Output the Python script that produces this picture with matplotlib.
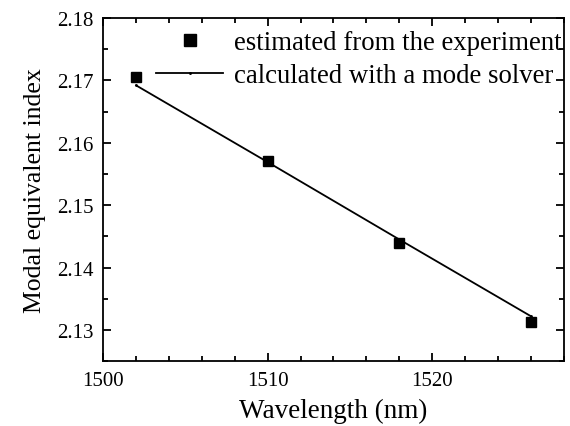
import matplotlib.pyplot as plt
from matplotlib.ticker import MultipleLocator

# experiment points
wl_exp = [1502, 1510, 1518, 1526]
n_exp = [2.1705, 2.1571, 2.1440, 2.1313]

# mode solver
wl_sim = [1502, 1510, 1518, 1526]
n_sim = [2.1692, 2.1569, 2.1445, 2.1322]

plt.rcParams['font.family'] = ['Liberation Serif', 'DejaVu Serif']

fig, ax = plt.subplots(figsize=(5.7, 4.27), dpi=100)
ax.plot(wl_exp, n_exp, 's', color='black', markersize=7.8, linestyle='none',
        label='estimated from the experiment')
ax.plot(wl_sim, n_sim, '-', color='black', linewidth=1.3, marker='.', markersize=2,
        label='calculated with a mode solver')

ax.set_xlim(1500, 1528)
ax.set_ylim(2.125, 2.18)
ax.xaxis.set_major_locator(MultipleLocator(10))
ax.xaxis.set_minor_locator(MultipleLocator(2))
ax.yaxis.set_major_locator(MultipleLocator(0.01))
ax.yaxis.set_minor_locator(MultipleLocator(0.005))
ax.yaxis.set_major_formatter(plt.FormatStrFormatter('%.2f'))
ax.tick_params(which='both', direction='in', top=True, right=True, labelsize=15, width=1.3)
ax.tick_params(which='major', length=6)
ax.tick_params(which='minor', length=3.5)
ax.tick_params(axis='x', pad=7)
ax.tick_params(axis='y', pad=7)
for s in ax.spines.values():
    s.set_linewidth(1.3)

ax.set_xlabel('Wavelength (nm)', fontsize=19.5, labelpad=6)
ax.set_ylabel('Modal equivalent index', fontsize=18.5, labelpad=8)
ax.legend(loc='upper right', bbox_to_anchor=(0.995, 0.965), frameon=False, fontsize=19.3,
          handlelength=2.5, borderaxespad=0, borderpad=0, handletextpad=0.4,
          labelspacing=0.3, markerscale=1.1)

plt.subplots_adjust(left=0.181, right=0.989, bottom=0.152, top=0.9555)
plt.savefig('out.png')
